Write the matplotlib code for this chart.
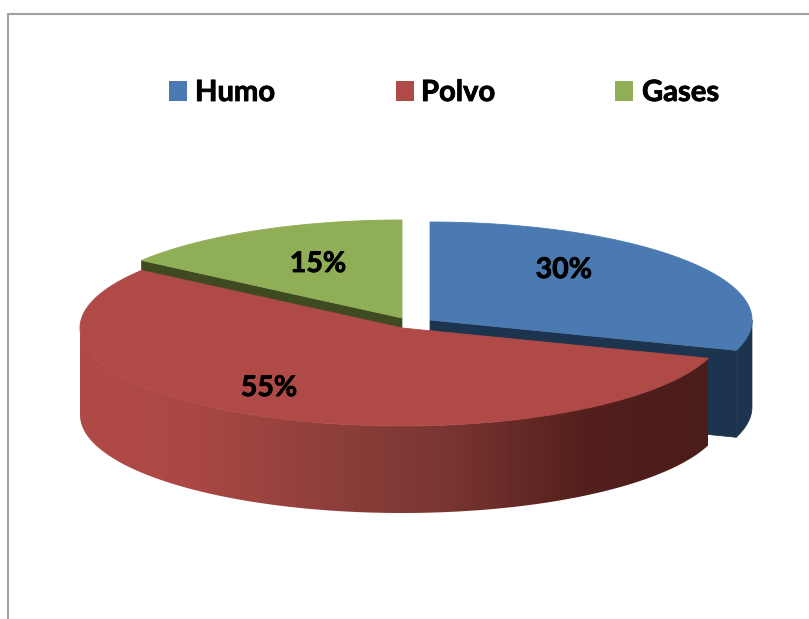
import numpy as np
import matplotlib
matplotlib.use('Agg')
import matplotlib.pyplot as plt
import matplotlib.patheffects as pe
from matplotlib.colors import LinearSegmentedColormap
from matplotlib.patches import Polygon

# Datos
categorias = ['Humo', 'Polvo', 'Gases']
valores = [30, 55, 15]
etiquetas = ['30%', '55%', '15%']

plt.rcParams['font.family'] = ['Lato', 'DejaVu Sans']

# Colores: cara superior y pared lateral
color_top = ['#4a7ab1', '#b04a47', '#8fae55']
color_wall = ['#1d344e', '#4a1c1a', '#3f4a20']

# Geometria de la tarta en pixeles
rx, ry, depth = 322, 98, 87
centros = [(430, 320), (402, 328), (402, 318)]
trazo = [pe.withStroke(linewidth=0.6, foreground='black')]

fig = plt.figure(figsize=(8.09, 6.19), dpi=100)
ax = fig.add_axes([0, 0, 1, 1])
ax.set_xlim(0, 809)
ax.set_ylim(619, 0)
ax.axis('off')

# Marco gris
ax.plot([8, 8, 809], [619, 13.5, 13.5], color='#a0a0a0', lw=1.5, solid_joinstyle='miter')

# Angulos de cada porcion, en sentido horario desde las 12
acum = np.cumsum([0] + valores) / sum(valores) * 2 * np.pi


def arco(i, a0=None, a1=None):
    a0 = acum[i] if a0 is None else a0
    a1 = acum[i + 1] if a1 is None else a1
    t = np.linspace(a0, a1, 200)
    cx, cy = centros[i]
    return cx + rx * np.sin(t), cy - ry * np.cos(t)


def cara_superior(i, z):
    x, y = arco(i)
    cx, cy = centros[i]
    ax.add_patch(Polygon(np.r_[[[cx, cy]], np.c_[x, y]], closed=True, fc=color_top[i],
                         ec=color_top[i], lw=0.6, zorder=z))


def pared_radial(i, a, z):
    cx, cy = centros[i]
    px, py = cx + rx * np.sin(a), cy - ry * np.cos(a)
    pts = [(cx, cy), (px, py), (px, py + depth), (cx, cy + depth)]
    ax.add_patch(Polygon(pts, closed=True, fc=color_wall[i], ec=color_wall[i], lw=0.5, zorder=z))


def pared_curva(i, a0, a1, z):
    x, y = arco(i, a0, a1)
    pts = np.r_[np.c_[x, y], np.c_[x[::-1], y[::-1] + depth]]
    return ax.add_patch(Polygon(pts, closed=True, fc=color_wall[i], ec=color_wall[i], lw=0.5, zorder=z))


# Humo (atras a la derecha)
pared_radial(0, acum[1], 2)
pared_curva(0, np.pi / 2, acum[1], 2)
cara_superior(0, 3)

# Gases (atras a la izquierda)
pared_radial(2, acum[2], 2)
cara_superior(2, 3)

# Polvo (delante), pared con degradado; solo se ve hasta el extremo izquierdo
pared = pared_curva(1, acum[1], 1.5 * np.pi, 4)
pared.set_facecolor('none')
pared.set_edgecolor('none')
grad = LinearSegmentedColormap.from_list('polvo', [
    (0.0, '#b04a47'), (0.17, '#ab4845'), (0.40, '#8e3f3b'),
    (0.58, '#7a3632'), (0.80, '#54201d'), (1.0, '#4a1c1a')])
img = ax.imshow(np.linspace(0, 1, 256)[None, :], extent=[80, 708, 520, 260], cmap=grad,
                aspect='auto', zorder=4)
img.set_clip_path(pared)
ax.set_xlim(0, 809)
ax.set_ylim(619, 0)
cara_superior(1, 5)

# Etiquetas de porcentaje
pos_etiquetas = [(564, 270), (269, 388), (318, 264)]
for (x, y), txt in zip(pos_etiquetas, etiquetas):
    ax.text(x, y, txt, ha='center', va='center', fontsize=20.5, fontweight='bold', color='black',
            zorder=6, path_effects=trazo)

# Leyenda
pos_cuadro = [169, 396, 615]
pos_texto = [195, 421, 642]
for i, nombre in enumerate(categorias):
    ax.add_patch(plt.Rectangle((pos_cuadro[i], 81), 18, 20, fc=color_top[i], ec='none'))
    ax.text(pos_texto[i], 101, nombre, ha='left', va='baseline', fontsize=21, fontweight='bold',
            color='black', path_effects=trazo)

fig.savefig('out.png', dpi=100)
